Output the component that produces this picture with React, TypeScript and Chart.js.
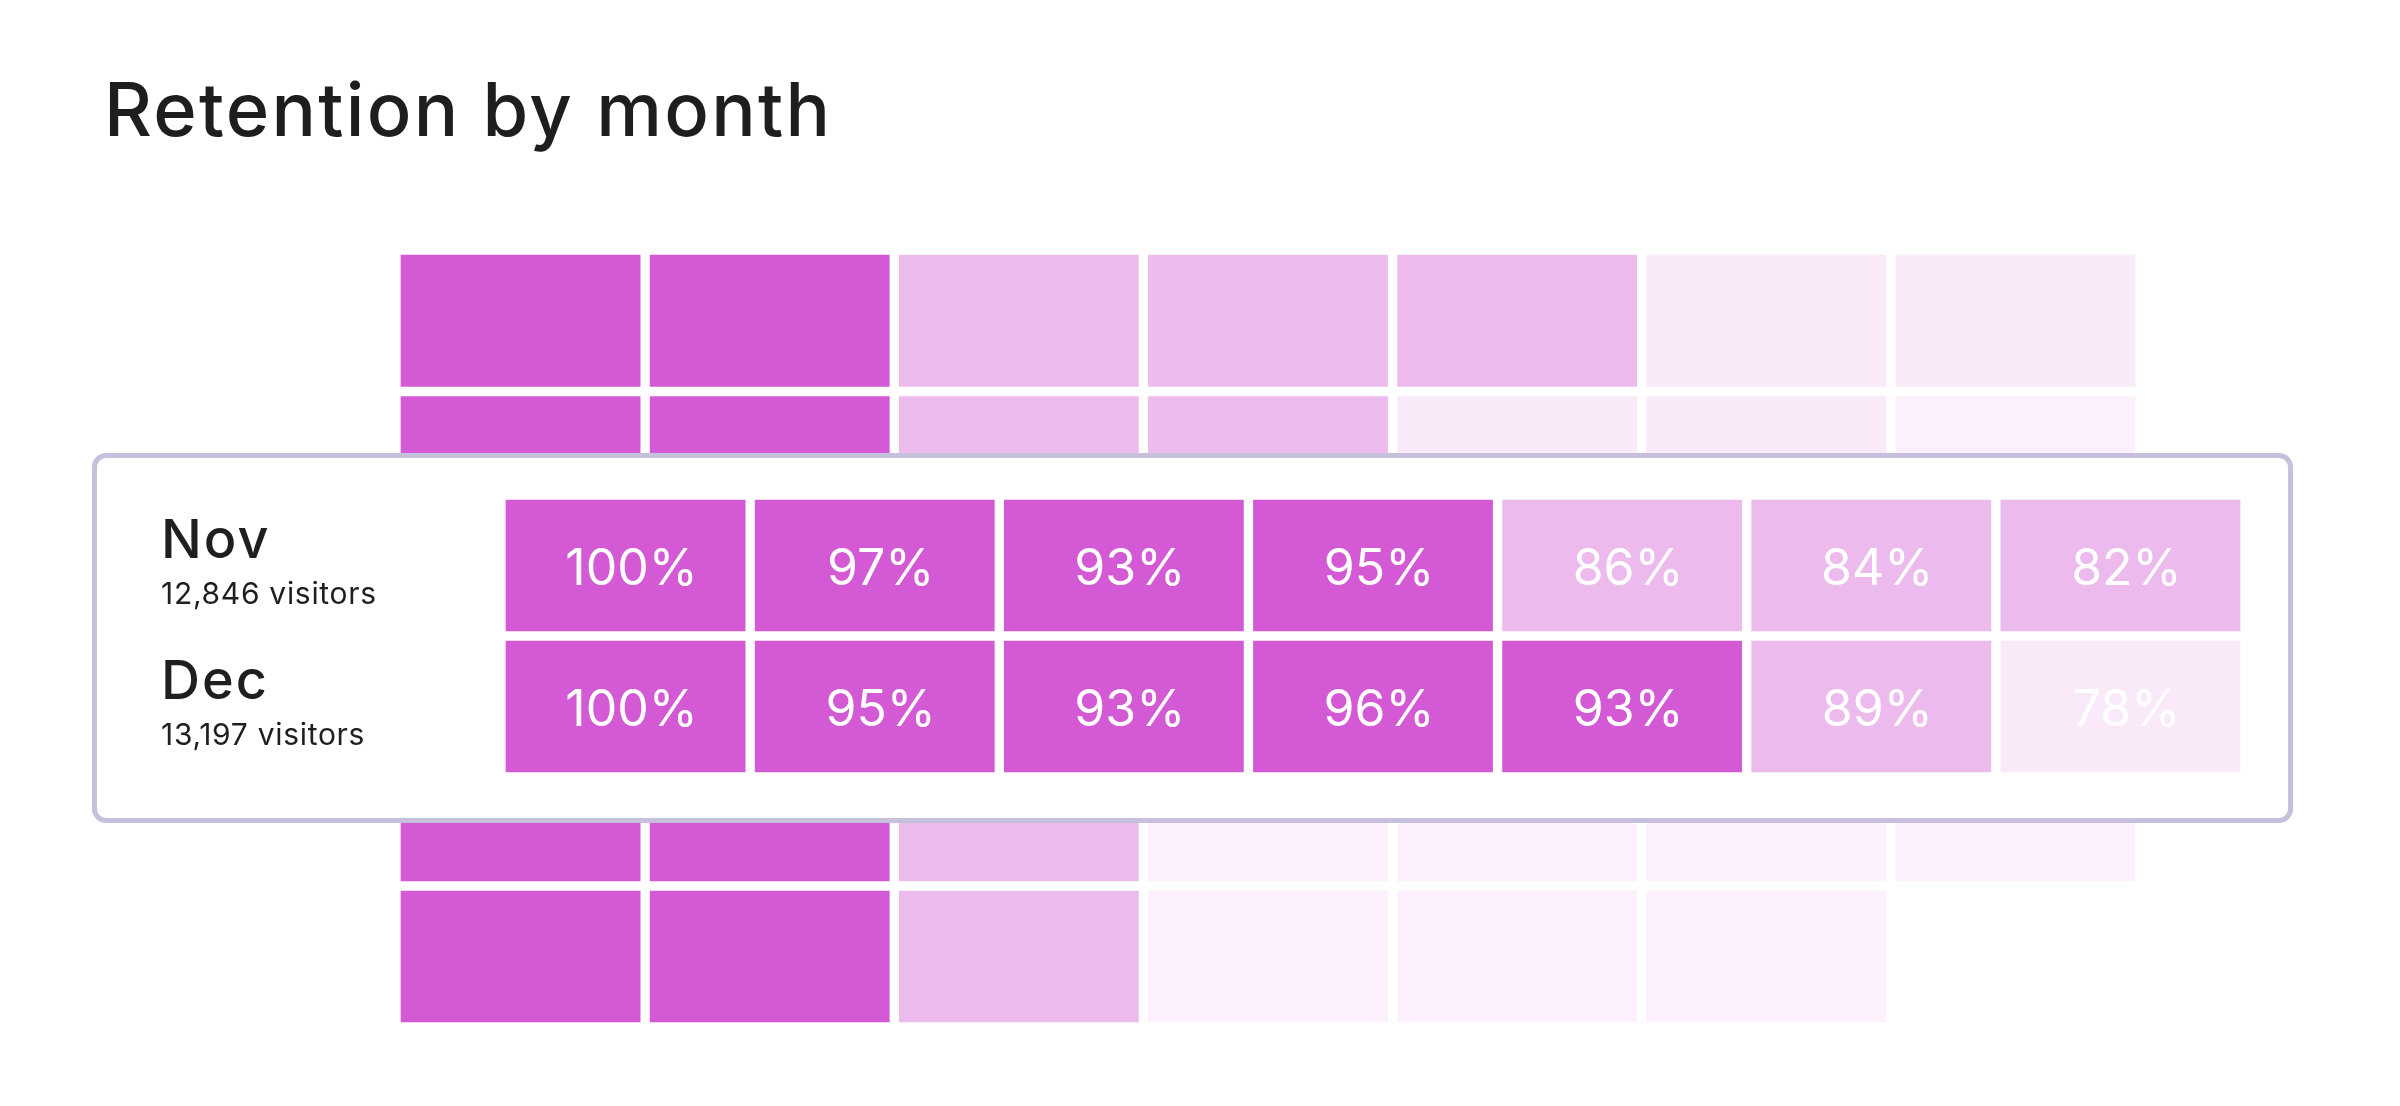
import React, { useEffect, useRef } from 'react';
import { Chart, registerables } from 'chart.js';

Chart.register(...registerables);

// ---- Data ----
const periods = ['Month 0', 'Month 1', 'Month 2', 'Month 3', 'Month 4', 'Month 5', 'Month 6'];

const upperCohorts = ['Sep', 'Oct'];
const sepRetention = [100, 96, 88, 86, 84, 78, 77];
const octRetention = [100, 95, 87, 85, 79, 77, 74];

const focusCohorts = ['Nov', 'Dec'];
const focusVisitors = [12846, 13197];
const novRetention = [100, 97, 93, 95, 86, 84, 82];
const decRetention = [100, 95, 93, 96, 93, 89, 78];

const lowerCohorts = ['Jan', 'Feb'];
const janRetention = [100, 94, 85, 74, 72, 70, 69];
const febRetention = [100, 93, 84, 73, 71, 70, null];

const TITLE = 'Retention by month';

// ---- Styling ----
const DARK = '#D35AD4';
const MID = '#ECBAEC';
const LIGHT = '#F9E9F9';
const FAINT = '#FCF0FC';
const FONT = 'Inter';

function shade(v: number | null): string {
  if (v == null) return 'rgba(0,0,0,0)';
  if (v >= 90) return DARK;
  if (v >= 80) return MID;
  if (v >= 75) return LIGHT;
  return FAINT;
}

type HeatProps = {
  cohorts: string[];
  rows: (number | null)[][];
  showValues?: boolean;
  visitors?: number[];
  padLeft?: number;
  padRight?: number;
  style: React.CSSProperties;
};

function Heatmap({ cohorts, rows, showValues, visitors, padLeft = 0, padRight = 0, style }: HeatProps) {
  const ref = useRef<HTMLCanvasElement | null>(null);

  useEffect(() => {
    if (!ref.current) return;

    const datasets = periods.map((p, j) => ({
      label: p,
      data: cohorts.map((_, i) => (rows[i][j] == null ? null : 1)),
      retention: cohorts.map((_, i) => rows[i][j]),
      backgroundColor: cohorts.map((_, i) => shade(rows[i][j])),
      borderColor: '#FFFFFF',
      borderWidth: 5,
      borderSkipped: false as const,
      barPercentage: 1,
      categoryPercentage: 1,
    }));

    const valueLabels = {
      id: 'valueLabels',
      afterDatasetsDraw(chart: any) {
        if (!showValues) return;
        const ctx = chart.ctx;
        ctx.save();
        ctx.font = `400 50px ${FONT}`;
        ctx.fillStyle = '#FFFFFF';
        ctx.textAlign = 'center';
        ctx.textBaseline = 'middle';
        chart.data.datasets.forEach((ds: any, j: number) => {
          const meta = chart.getDatasetMeta(j);
          meta.data.forEach((el: any, i: number) => {
            const v = ds.retention[i];
            if (v == null) return;
            const { x, y, base } = el.getProps(['x', 'y', 'base'], true);
            ctx.fillText(`${v}%`, (x + base) / 2 + 6, y + 4);
          });
        });
        ctx.restore();
      },
    };

    const rowLabels = {
      id: 'rowLabels',
      afterDraw(chart: any) {
        if (!visitors) return;
        const ctx = chart.ctx;
        const yScale = chart.scales.y;
        ctx.save();
        ctx.fillStyle = '#1F1F1F';
        ctx.textAlign = 'left';
        ctx.textBaseline = 'alphabetic';
        cohorts.forEach((c, i) => {
          const yc = yScale.getPixelForValue(i);
          ctx.font = `500 54px ${FONT}`;
          (ctx as any).letterSpacing = '2px';
          ctx.fillText(c, 64, yc - 8);
          ctx.font = `400 30px ${FONT}`;
          (ctx as any).letterSpacing = '0.7px';
          ctx.fillText(`${visitors[i].toLocaleString('en-US')} visitors`, 64, yc + 38);
        });
        ctx.restore();
      },
    };

    const chart = new Chart(ref.current, {
      type: 'bar',
      data: { labels: cohorts, datasets: datasets as any },
      options: {
        indexAxis: 'y',
        animation: false,
        responsive: true,
        maintainAspectRatio: false,
        layout: { padding: { left: padLeft, right: padRight, top: 0, bottom: 0 } },
        scales: {
          x: { type: 'linear', stacked: true, display: false, min: 0, max: periods.length },
          y: { type: 'category', stacked: true, display: false },
        },
        plugins: {
          legend: { display: false },
          tooltip: { enabled: false },
          title: { display: false },
        },
        events: [],
      },
      plugins: [valueLabels, rowLabels],
    });

    return () => chart.destroy();
  }, [cohorts, rows, showValues, visitors, padLeft, padRight]);

  return (
    <div style={{ position: 'absolute', ...style }}>
      <canvas ref={ref} />
    </div>
  );
}

const upperRows = [sepRetention, octRetention];
const focusRows = [novRetention, decRetention];
const lowerRows = [janRetention, febRetention];

export default function App() {
  return (
    <div
      style={{
        position: 'absolute',
        left: 0,
        top: 0,
        width: 2400,
        height: 1106,
        background: '#FFFFFF',
        overflow: 'hidden',
      }}
    >
      <div
        style={{
          position: 'absolute',
          left: 104,
          top: 72,
          fontFamily: FONT,
          fontWeight: 500,
          fontSize: 74,
          lineHeight: '74px',
          letterSpacing: '2.3px',
          color: '#1E1E1E',
          whiteSpace: 'nowrap',
        }}
      >
        {TITLE}
      </div>

      <Heatmap cohorts={upperCohorts} rows={upperRows} style={{ left: 396, top: 250, width: 1744, height: 283 }} />
      <Heatmap cohorts={lowerCohorts} rows={lowerRows} style={{ left: 396, top: 745, width: 1744, height: 282 }} />

      <div
        style={{
          position: 'absolute',
          left: 92,
          top: 453,
          width: 2201,
          height: 370,
          boxSizing: 'border-box',
          border: '5px solid #C7C0DC',
          borderRadius: 14,
          background: '#FFFFFF',
        }}
      >
        <Heatmap
          cohorts={focusCohorts}
          rows={focusRows}
          showValues
          visitors={focusVisitors}
          padLeft={404}
          padRight={43}
          style={{ left: 0, top: 37, width: 2191, height: 282 }}
        />
      </div>
    </div>
  );
}
